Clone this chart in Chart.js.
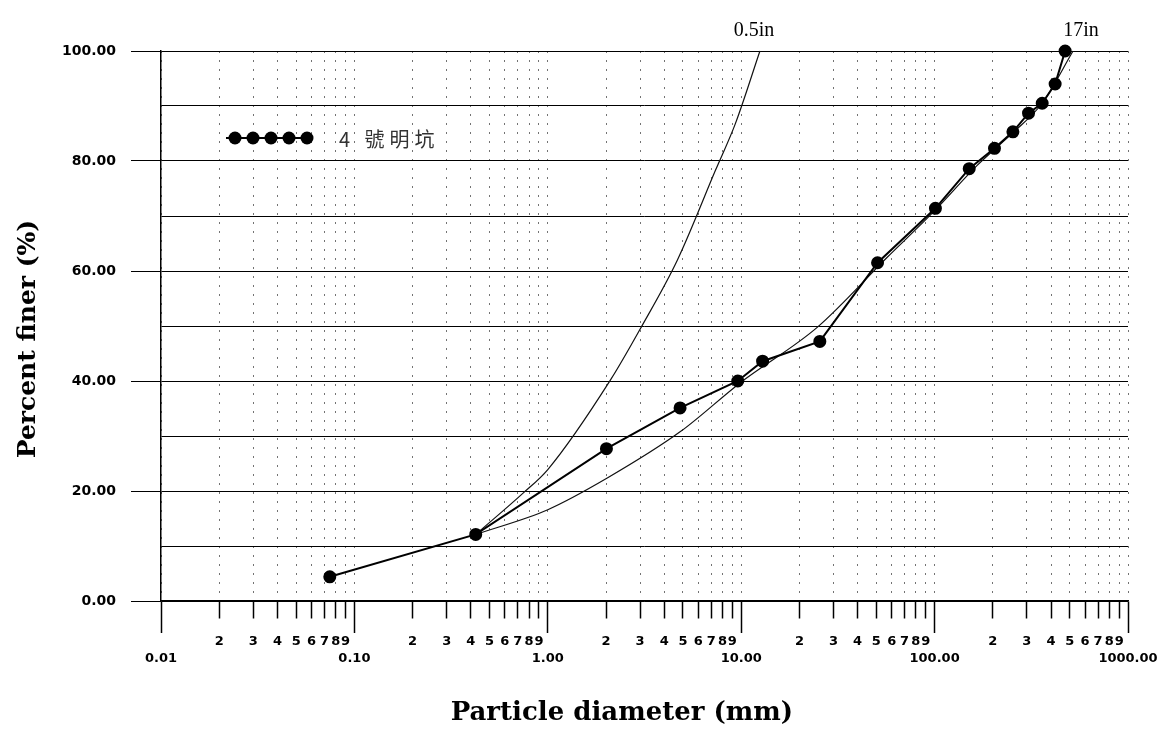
<!DOCTYPE html>
<html>
<head>
<meta charset="utf-8">
<title>4 號明坑 粒徑分布</title>
<script src="https://cdn.jsdelivr.net/npm/chart.js@4.4.1/dist/chart.umd.min.js"></script>
<style>
  html, body { margin: 0; padding: 0; background: #fff; }
  canvas { display: block; background: #fff; }
</style>
</head>
<body>
<canvas id="grading" width="1171" height="738"></canvas>
<script>
// sieve results for pit no. 4 (mm / % finer)
const pitDiameter = [0.0746, 0.424, 2.01, 4.83, 9.6, 12.9, 25.5, 50.7, 101, 151, 204, 254, 306, 360, 420, 473];
const pitFiner = [4.4, 12.1, 27.7, 35.1, 40.0, 43.6, 47.2, 61.5, 71.4, 78.6, 82.3, 85.3, 88.7, 90.5, 94.0, 100];

// 0.5 in envelope
const halfInchDiameter = [0.424, 0.75, 1.0, 2.11, 3.02, 4.68, 7.36, 9.33, 12.5];
const halfInchFiner = [12.1, 19.7, 23.9, 40.2, 49.6, 62.0, 78.3, 86.8, 100];

// 17 in envelope
const bigDiameter = [0.424, 1.0, 2.04, 4.85, 9.9, 24.8, 56.9, 98.4, 166, 255, 360, 520];
const bigFiner = [12.1, 16.6, 22.4, 30.8, 39.7, 49.8, 62.5, 70.7, 79.2, 85.2, 90.5, 100];

// axis ticks
const decadeTicks = [0.01, 0.1, 1, 10, 100, 1000];
const decadeLabels = ['0.01', '0.10', '1.00', '10.00', '100.00', '1000.00'];
const minorSteps = [2, 3, 4, 5, 6, 7, 8, 9];
const finerTicks = [0, 10, 20, 30, 40, 50, 60, 70, 80, 90, 100];
const finerLabels = [0, 20, 40, 60, 80, 100];

// log axis: decade ticks get their label on the second line
const xTickValues = [];
const xTickLabels = [];
decadeTicks.forEach((d, i) => {
  xTickValues.push(d);
  xTickLabels.push(['', decadeLabels[i]]);
  if (i < decadeTicks.length - 1) {
    minorSteps.forEach((s) => {
      xTickValues.push(d * s);
      xTickLabels.push(String(s));
    });
  }
});

function toPoints(xs, ys) {
  return xs.map((x, i) => ({ x: x, y: ys[i] }));
}

Chart.defaults.color = "#000";

// legend drawn as a run of five dots like the old plotting package
const pitLegend = {
  id: "pitLegend",
  afterDraw(chart) {
    const ds = chart.data.datasets[0];
    const ctx = chart.ctx;
    const y = 138;
    ctx.save();
    ctx.strokeStyle = ds.borderColor;
    ctx.lineWidth = 2;
    ctx.beginPath();
    ctx.moveTo(226, y);
    ctx.lineTo(313, y);
    ctx.stroke();
    ctx.fillStyle = ds.pointBackgroundColor;
    for (let i = 0; i < 5; i++) {
      ctx.beginPath();
      ctx.arc(235 + i * 18, y, 6.5, 0, Math.PI * 2);
      ctx.fill();
    }
    ctx.font = '20px "Noto Sans CJK TC"';
    ctx.letterSpacing = "5px";
    ctx.textBaseline = "middle";
    ctx.fillStyle = "#333";
    ctx.fillText(ds.label, 339, y + 1);
    ctx.restore();
  },
};

// "0.5in" / "17in" above the top end of each envelope
const endLabels = {
  id: "endLabels",
  afterDatasetsDraw(chart) {
    const ctx = chart.ctx;
    chart.data.datasets.forEach((ds, i) => {
      if (!ds.endLabel) return;
      const pts = chart.getDatasetMeta(i).data;
      const last = pts[pts.length - 1];
      ctx.save();
      ctx.font = '20px "Liberation Serif"';
      ctx.fillStyle = "#000";
      ctx.textAlign = "center";
      ctx.fillText(ds.endLabel, last.x + ds.labelShift, last.y - 15);
      ctx.restore();
    });
  },
};

new Chart(document.getElementById("grading"), {
  type: "line",
  data: {
    datasets: [
      {
        label: "4 號明坑",
        data: toPoints(pitDiameter, pitFiner),
        borderColor: "#000",
        backgroundColor: "#000",
        pointBackgroundColor: "#000",
        pointBorderColor: "#000",
        borderWidth: 2,
        pointRadius: 5.5,
        tension: 0,
        clip: false,
      },
      {
        label: "0.5in",
        endLabel: "0.5in",
        labelShift: -6,
        data: toPoints(halfInchDiameter, halfInchFiner),
        borderColor: "#111",
        borderWidth: 1.2,
        pointRadius: 0,
        cubicInterpolationMode: "monotone",
        clip: false,
      },
      {
        label: "17in",
        endLabel: "17in",
        labelShift: 8,
        data: toPoints(bigDiameter, bigFiner),
        borderColor: "#111",
        borderWidth: 1.2,
        pointRadius: 0,
        cubicInterpolationMode: "monotone",
        clip: false,
      },
    ],
  },
  options: {
    responsive: false,
    animation: false,
    devicePixelRatio: 1,
    layout: { padding: { top: 51, right: 43, bottom: 0, left: 0 } },
    plugins: {
      legend: { display: false },
      tooltip: { enabled: false },
    },
    scales: {
      x: {
        type: "logarithmic",
        position: "bottom",
        min: 0.01,
        max: 1000,
        afterBuildTicks: (axis) => {
          axis.ticks = xTickValues.map((v) => ({ value: v }));
        },
        afterFit: (scale) => {
          scale.height = 137;
        },
        ticks: {
          autoSkip: false,
          maxRotation: 0,
          padding: 0,
          font: { family: "DejaVu Sans", weight: "bold", size: 13, lineHeight: 1.3 },
          callback: (value, index) => xTickLabels[index],
        },
        grid: {
          color: "rgba(0,0,0,0.55)",
          lineWidth: 1,
          tickLength: 32,
          tickColor: "#000",
          tickWidth: 1.5,
          tickBorderDash: (ctx) =>
            ctx.tick && decadeTicks.includes(ctx.tick.value) ? [] : [17, 60],
        },
        border: { display: true, color: "#000", width: 1.5, dash: [2, 7] },
        title: {
          display: true,
          // trailing spaces pull the centred title left
          text: "Particle diameter (mm)     ",
          font: { family: "DejaVu Serif", weight: "bold", size: 26 },
          padding: { top: 0, bottom: 9 },
        },
      },
      y: {
        min: 0,
        max: 100,
        afterBuildTicks: (axis) => {
          axis.ticks = finerTicks.map((v) => ({ value: v }));
        },
        afterFit: (scale) => {
          scale.width = 161;
        },
        ticks: {
          padding: 15,
          font: { family: "DejaVu Sans", weight: "bold", size: 14 },
          callback: (v) => (finerLabels.includes(v) ? v.toFixed(2) : ""),
        },
        grid: {
          color: "#000",
          lineWidth: 1,
          tickLength: 30,
          tickColor: (ctx) =>
            ctx.tick && finerLabels.includes(ctx.tick.value) ? "#000" : "rgba(0,0,0,0)",
        },
        border: { display: true, color: "#000", width: 1.5 },
        title: {
          display: true,
          // trailing spaces push the rotated title down a little
          text: "Percent finer (%)   ",
          font: { family: "DejaVu Serif", weight: "bold", size: 25 },
          padding: { top: 13, bottom: 0 },
        },
      },
    },
  },
  plugins: [pitLegend, endLabels],
});
</script>
</body>
</html>
